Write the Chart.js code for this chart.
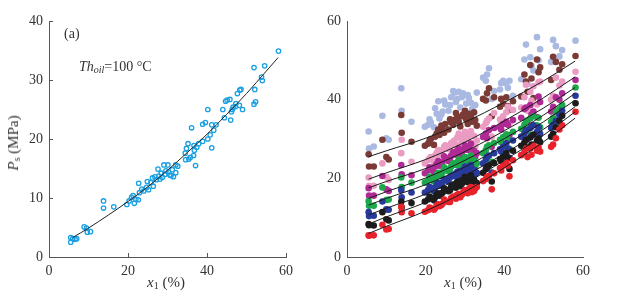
<!DOCTYPE html>
<html>
<head>
<meta charset="utf-8">
<script src="https://cdn.jsdelivr.net/npm/chart.js@4.4.1/dist/chart.umd.min.js"></script>
<style>
  body { margin: 0; background: #fff; width: 629px; height: 296px; position: relative; overflow: hidden;
         font-family: "Liberation Serif", "DejaVu Serif", serif; color: #333; }
  .box { position: absolute; top: 0; height: 296px; }
  #left { left: 0; width: 310px; }
  #right { left: 310px; width: 319px; }
  .lbl { position: absolute; white-space: nowrap; font-size: 15px; line-height: 1; }
  .lbl sub { font-size: 10px; vertical-align: -2px; }
  #ytitle { left: 14px; top: 143px; transform: translate(-50%, -50%) rotate(-90deg); }
</style>
</head>
<body>
<div class="box" id="left"><canvas id="chartA" width="310" height="296"></canvas></div>
<div class="box" id="right"><canvas id="chartB" width="319" height="296"></canvas></div>

<div class="lbl" style="left:64px;top:27px;font-size:14px">(a)</div>
<div class="lbl" style="left:79px;top:60px;font-size:14px"><i>Th</i><sub><i>oil</i></sub>=100 °C</div>
<div class="lbl" id="ytitle"><i>P</i><sub>s</sub> (MPa)</div>
<div class="lbl" style="left:147px;top:275px"><i>x</i><sub>1</sub> (%)</div>
<div class="lbl" style="left:444px;top:275px"><i>x</i><sub>1</sub> (%)</div>

<script>
// panel (a): Th_oil = 100 C, measured points
var xA = [5.5,5.5,6.0,6.6,7.0,8.9,9.5,9.7,10.5,13.8,13.8,16.4,19.7,20.3,20.9,21.3,21.6,22.0,22.6,22.7,
          22.9,23.5,24.0,24.7,24.9,25.2,25.8,26.2,26.4,26.8,27.2,27.6,27.8,28.1,28.4,28.7,29.1,29.3,29.6,30.1,
          30.3,30.6,30.9,31.2,31.5,32.1,32.1,32.6,34.5,34.8,34.6,35.2,35.4,35.8,36.1,36.6,36.7,36.8,37.1,37.4,
          37.9,38.9,38.9,39.6,40.2,40.2,40.8,41.2,41.2,41.7,42.3,44.0,44.4,44.7,45.1,45.8,46.0,46.2,46.4,46.6,
          47.2,47.3,47.7,48.2,48.3,48.6,49.0,51.9,51.9,52.1,52.3,53.8,54.0,54.6,58.1];
var yA = [3.3,2.5,3.1,3.0,3.1,5.1,4.9,4.2,4.3,9.5,8.3,8.5,8.9,9.5,10.1,10.4,9.1,9.8,9.7,12.5,
          10.9,11.5,11.2,11.8,12.8,11.4,12.6,13.4,12.0,13.6,13.1,14.9,13.7,13.2,14.2,13.5,15.6,14.0,14.6,15.6,
          14.4,13.9,13.8,14.8,13.6,14.3,15.6,15.4,17.6,18.4,16.5,19.2,16.6,16.9,21.9,17.2,18.9,18.1,15.5,18.6,
          19.2,19.6,22.5,22.8,20.0,25.0,20.7,18.5,22.4,21.5,22.4,25.0,23.6,26.4,26.6,26.7,23.2,24.6,25.0,25.4,
          25.5,26.0,27.7,25.7,28.3,28.4,25.0,32.1,25.9,28.4,26.3,30.5,29.9,32.4,34.9];
// fitted curve of panel (a)
var fitAx = [6, 10, 15, 20, 25, 30, 35, 40, 45, 50, 55, 58];
var fitAy = [3.3, 4.9, 7.1, 9.4, 11.9, 14.7, 17.7, 20.8, 24.2, 27.7, 31.5, 33.8];

// panel (b): the same samples at eight oil temperatures
var xB = [5.5,5.6,6.8,9.0,10.0,10.6,13.8,13.9,16.4,19.8,20.6,21.3,22.1,22.8,23.5,24.3,25.0,25.8,26.5,
          27.3,28.0,28.8,29.5,30.3,31.0,31.8,32.6,34.6,35.3,36.1,36.8,37.4,38.9,39.7,40.5,41.3,42.2,
          44.3,45.1,45.9,46.6,47.4,48.3,49.1,51.9,52.4,54.0,54.7,58.1,
          21.0,22.4,23.2,24.0,24.7,26.2,27.0,27.7,28.4,29.2,30.0,30.7,31.5,32.3,33.0,35.6,39.2,40.9,
          45.5,46.9,48.7,53.1];
var yLav = [31.9,27.6,28.1,35.9,30.2,29.8,42.9,37.2,34.4,33.1,33.6,34.2,33.0,36.4,35.2,37.0,38.8,37.2,40.6,
            41.8,40.2,38.0,41.6,39.0,40.4,37.6,38.6,45.6,44.8,48.0,40.2,42.2,42.6,44.8,44.2,44.8,41.0,
            45.2,50.2,44.0,50.8,47.4,55.9,52.8,49.6,55.2,51.0,52.6,55.0,
            35.0,37.8,39.6,36.2,39.8,38.6,42.2,39.4,42.0,40.6,36.8,41.2,39.2,36.6,41.8,46.4,44.2,43.0,
            54.0,48.6,50.0,53.6];
var yBrown = [26.1,23.0,23.0,29.8,25.4,24.8,36.1,31.6,29.3,28.3,28.8,30.0,28.5,31.4,31.0,32.6,33.8,32.4,34.2,
              34.8,35.6,33.2,36.2,35.0,36.4,34.4,34.8,40.2,39.8,42.9,35.8,40.6,38.2,39.0,40.6,37.4,39.6,
              40.8,46.4,42.0,48.8,40.4,50.2,48.2,45.0,50.9,47.6,49.0,51.1,
              29.6,30.6,32.4,33.4,31.6,35.0,33.6,36.6,34.4,35.8,37.2,33.8,35.6,36.8,33.4,41.6,40.2,38.4,
              44.6,45.4,47.0,49.6];
var yPink = [20.2,18.1,18.1,23.8,20.4,19.6,26.4,29.8,24.2,23.8,24.6,25.4,24.2,26.5,26.0,27.2,28.4,27.4,29.0,
             29.6,30.4,28.6,30.6,30.2,31.0,29.0,28.1,33.1,34.0,35.2,30.6,36.6,35.0,35.8,36.8,34.0,37.4,
             38.0,40.6,37.2,42.0,43.4,38.8,44.6,40.0,41.0,43.6,44.6,47.1,
             25.0,25.8,27.2,26.4,28.0,27.8,29.2,28.4,31.4,29.4,31.8,30.0,32.0,30.8,29.6,34.6,34.2,38.2,
             43.8,39.8,44.4,45.6];
var yMag = [17.5,15.6,15.6,20.6,17.2,16.8,23.4,21.0,20.8,21.3,22.0,22.6,21.6,23.6,23.2,24.2,25.2,24.4,25.8,
            26.4,27.0,25.6,27.2,27.4,27.8,26.0,25.5,30.5,31.4,32.3,28.0,32.8,33.0,33.8,34.4,31.0,34.8,
            35.4,37.6,34.6,38.6,37.0,35.6,39.4,37.0,38.2,40.0,41.6,45.0,
            22.8,23.0,24.4,23.8,25.6,25.0,26.6,26.0,27.6,26.6,28.4,27.2,28.8,27.0,26.4,30.2,32.4,33.6,
            38.0,36.2,40.8,40.6];
var yGreen = [14.2,13.0,13.0,17.7,14.5,14.6,20.2,17.8,18.9,18.9,19.4,20.0,19.2,20.9,20.6,21.6,22.4,21.8,23.0,
              23.5,24.1,23.0,24.5,24.8,25.2,23.6,22.8,26.4,27.2,28.4,24.2,29.0,29.8,30.5,31.2,27.5,31.8,
              32.6,33.6,32.0,35.2,35.8,33.5,33.0,34.4,35.3,37.6,38.6,43.1,
              20.4,20.2,21.4,21.0,22.8,22.4,23.8,23.4,24.8,24.0,25.4,24.4,25.8,24.6,23.8,28.0,29.2,30.0,
              34.6,33.2,35.4,36.8];
var yBlue = [11.4,10.4,10.5,14.1,12.1,12.0,17.0,15.2,16.4,16.4,17.0,17.5,16.8,18.4,18.1,19.0,19.8,19.2,20.5,
             21.0,21.6,20.6,22.1,22.4,23.0,21.8,21.0,23.8,24.8,25.8,21.5,26.4,27.4,28.0,28.9,25.2,29.6,
             30.6,31.4,30.0,32.8,33.5,31.8,31.3,32.8,33.6,36.0,37.2,41.0,
             17.8,17.6,18.8,18.6,19.6,20.2,20.8,20.4,21.8,21.2,23.0,21.8,23.4,22.2,21.4,25.4,26.8,27.6,
             32.2,30.8,33.0,34.6];
var yBlack = [8.4,8.1,8.0,11.4,9.6,9.3,14.1,12.6,13.7,14.1,14.6,15.0,14.4,15.9,15.6,16.4,17.2,16.7,17.9,
              18.3,18.9,18.0,19.4,19.6,20.2,19.3,19.0,21.4,22.3,23.3,19.2,23.9,24.9,25.5,26.4,22.4,27.0,
              28.3,29.1,27.8,30.4,31.1,29.6,29.2,30.6,31.3,34.6,35.9,39.1,
              15.4,15.2,16.2,16.0,17.4,17.0,18.2,17.6,19.2,18.6,20.4,19.0,20.8,19.6,18.8,22.8,24.4,25.2,
              29.8,28.6,30.2,33.0];
var yRed = [5.5,5.4,5.5,8.2,7.0,7.1,12.8,11.4,11.1,11.5,11.9,12.3,12.0,13.1,12.9,13.6,14.2,14.0,15.0,
            15.3,15.8,15.2,16.4,16.6,17.3,16.5,17.4,19.3,19.8,20.6,17.2,21.3,22.6,23.2,24.0,20.5,24.6,
            25.9,26.6,25.4,27.6,28.3,27.0,26.8,28.0,28.6,32.4,33.5,36.9,
            12.6,12.4,13.4,13.2,14.6,14.0,15.4,14.8,16.0,15.8,17.0,16.2,17.8,16.8,17.8,20.4,22.0,23.2,
            27.6,26.0,27.8,30.2];

// fitted curves of panel (b)
var fitBx = [5.5, 10, 20, 30, 40, 50, 58];
var fitLav = [25.5, 27.0, 30.2, 34.3, 39.3, 44.8, 49.8];
var fitBrown = [19.8, 21.4, 24.8, 29.2, 34.6, 40.5, 45.8];
var fitPink = [17.6, 19.2, 22.5, 26.8, 32.1, 37.9, 43.1];
var fitMag = [14.9, 16.6, 20.1, 24.6, 30.1, 36.1, 41.6];
var fitGreen = [13.2, 14.9, 18.4, 22.9, 28.4, 34.4, 39.9];
var fitBlue = [10.7, 12.4, 16.0, 20.7, 26.3, 32.5, 38.2];
var fitBlack = [8.4, 10.2, 13.9, 18.7, 24.6, 31.0, 36.9];
var fitRed = [6.0, 7.8, 11.7, 16.6, 22.7, 29.3, 35.3];

var tickSteps = { x: 20, yA: 10, yB: 20 };

function pts(xs, ys) {
    return xs.map(function(x, i) { return { x: x, y: ys[i] }; });
}

// small tick marks drawn inside the plot, like the original
var inwardTicks = {
    id: 'inwardTicks',
    afterDraw: function(chart, args, opts) {
        if (!opts.on) return;
        var ctx = chart.ctx, a = chart.chartArea;
        var xs = chart.scales.x, ys = chart.scales.y;
        ctx.save();
        ctx.strokeStyle = '#555';
        ctx.lineWidth = 1;
        ctx.beginPath();
        xs.ticks.forEach(function(t) {
            var p = Math.round(xs.getPixelForValue(t.value)) + 0.5;
            ctx.moveTo(p, a.bottom); ctx.lineTo(p, a.bottom - 4);
        });
        ys.ticks.forEach(function(t) {
            var p = Math.round(ys.getPixelForValue(t.value)) + 0.5;
            ctx.moveTo(a.left, p); ctx.lineTo(a.left + 4, p);
        });
        ctx.stroke();
        ctx.restore();
    }
};

function axes(ymax, ystep, yWidth) {
    var tickFont = { family: '"Liberation Serif", serif', size: 14 };
    return {
        x: {
            type: 'linear', min: 0, max: 60,
            grid: { display: false, drawTicks: false },
            border: { color: '#555', width: 1 },
            ticks: { stepSize: tickSteps.x, color: '#333', font: tickFont, padding: 6, maxRotation: 0 },
            afterFit: function(s) { s.height = 39; }
        },
        y: {
            type: 'linear', min: 0, max: ymax,
            grid: { display: false, drawTicks: false },
            border: { color: '#555', width: 1 },
            ticks: { stepSize: ystep, color: '#333', font: tickFont, padding: 6 },
            afterFit: function(s) { s.width = yWidth; }
        }
    };
}

var common = {
    responsive: false,
    animation: false,
    events: [],
    plugins: { legend: { display: false }, tooltip: { enabled: false } }
};

new Chart(document.getElementById('chartA'), {
    type: 'scatter',
    data: {
        datasets: [
            { type: 'line', data: pts(fitAx, fitAy), borderColor: '#222', borderWidth: 1,
              pointRadius: 0, tension: 0.4, cubicInterpolationMode: 'monotone', fill: false },
            { data: pts(xA, yA), pointRadius: 2.2, pointBorderWidth: 1.3,
              borderColor: '#1aa0e2', backgroundColor: 'rgba(255,255,255,0)' }
        ]
    },
    options: Object.assign({}, common, {
        layout: { padding: { top: 21, right: 24, left: 0, bottom: 0 } },
        scales: axes(40, tickSteps.yA, 49),
        plugins: Object.assign({}, common.plugins, { inwardTicks: { on: true } })
    }),
    plugins: [inwardTicks]
});

var seriesB = [
    { y: yRed, fit: fitRed, color: '#e8222b' },
    { y: yBlack, fit: fitBlack, color: '#1c1c1c' },
    { y: yBlue, fit: fitBlue, color: '#27399a' },
    { y: yGreen, fit: fitGreen, color: '#1ea84c' },
    { y: yMag, fit: fitMag, color: '#b02a96' },
    { y: yPink, fit: fitPink, color: '#ea9cc2' },
    { y: yBrown, fit: fitBrown, color: '#7a3a36' },
    { y: yLav, fit: fitLav, color: '#a9b9e2' }
];

var dsB = [];
// fit lines first so they sit on top of the dots
seriesB.forEach(function(s) {
    dsB.push({ type: 'line', data: pts(fitBx, s.fit), borderColor: '#1a1a1a', borderWidth: 1,
               pointRadius: 0, tension: 0.4, cubicInterpolationMode: 'monotone', fill: false });
});
seriesB.forEach(function(s) {
    dsB.push({ data: pts(xB, s.y), pointRadius: 3.3, pointBorderWidth: 0,
               backgroundColor: s.color, borderColor: s.color });
});

new Chart(document.getElementById('chartB'), {
    type: 'scatter',
    data: { datasets: dsB },
    options: Object.assign({}, common, {
        layout: { padding: { top: 21, right: 46, left: 0, bottom: 0 } },
        scales: axes(60, tickSteps.yB, 37),
        plugins: Object.assign({}, common.plugins, { inwardTicks: { on: false } })
    }),
    plugins: [inwardTicks]
});
</script>
</body>
</html>
